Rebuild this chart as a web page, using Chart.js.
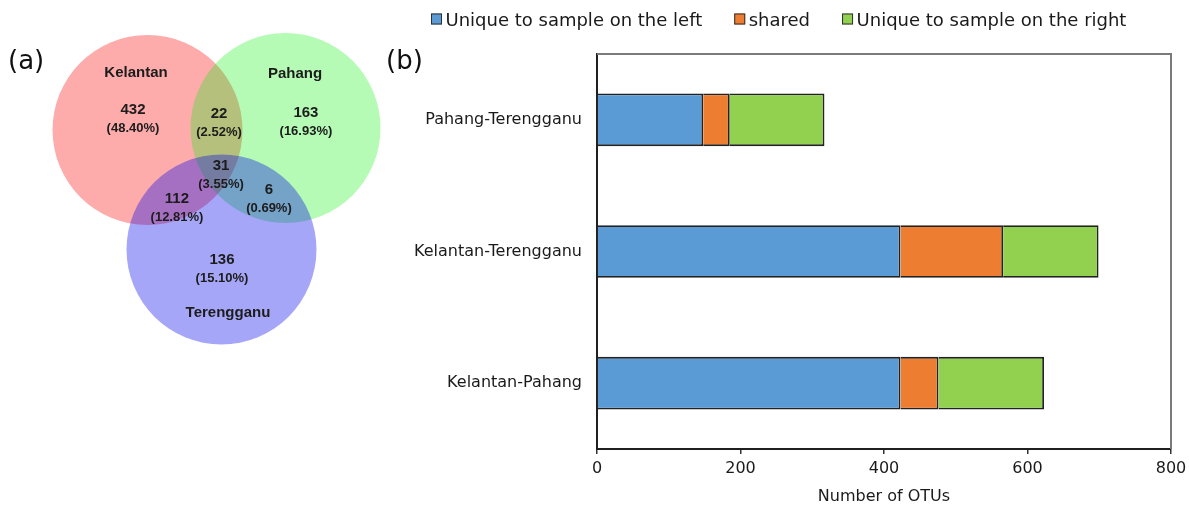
<!DOCTYPE html>
<html>
<head>
<meta charset="utf-8">
<title>OTU overlap between sampling sites</title>
<script src="https://cdn.jsdelivr.net/npm/chart.js@4.4.1/dist/chart.umd.min.js"></script>
<style>
  html, body { margin: 0; padding: 0; background: #ffffff; }
  #wrap { position: relative; width: 1189px; height: 508px; overflow: hidden; background: #ffffff; }
  #vennBox { position: absolute; left: 0; top: 0; width: 390px; height: 508px; }
  #barBox { position: absolute; left: 380px; top: 0; width: 809px; height: 508px; }
  .panel { position: absolute; top: 47px; font-family: "DejaVu Sans", sans-serif; font-size: 26px; line-height: 26px; color: #111; }
</style>
</head>
<body>
<div id="wrap">
  <div id="barBox"><canvas id="barCanvas"></canvas></div>
  <div id="vennBox"><canvas id="vennCanvas"></canvas></div>
  <div class="panel" style="left:8px">(a)</div>
  <div class="panel" style="left:386px">(b)</div>
</div>
<script>
// ---- Venn diagram data ----
const setNames = ['Kelantan', 'Pahang', 'Terengganu'];
// regions: K only, P only, T only, K∩P, K∩T, P∩T, K∩P∩T
const regionCounts = [432, 163, 136, 22, 112, 6, 31];
const regionShares = ['48.40%', '16.93%', '15.10%', '2.52%', '12.81%', '0.69%', '3.55%'];

// ---- pairwise comparison data ----
const pairLabels = ['Pahang-Terengganu', 'Kelantan-Terengganu', 'Kelantan-Pahang'];
const uniqueLeft = [148, 423, 423];
const sharedOTUs = [37, 143, 53];
const uniqueRight = [132, 133, 147];
const seriesNames = ['Unique to sample on the left', 'shared', 'Unique to sample on the right'];
const xTicks = [0, 200, 400, 600, 800];

// ---- Venn layout (units of one circle radius) ----
const circleCentres = [[-0.721, 0.621], [0.732, 0.642], [0.058, -0.637]];
const circleRadius = 1;
const nameAnchors = [[-0.842, 1.221], [0.832, 1.211], [0.126, -1.305]];
const regionAnchors = [[-0.874, 0.742], [0.947, 0.705], [0.063, -0.837],
                       [0.032, 0.700], [-0.411, -0.200], [0.558, -0.105], [0.053, 0.147]];
const circleFills = ['rgba(250,0,0,0.33)', 'rgba(10,240,10,0.30)', 'rgba(0,0,235,0.35)'];

const vennFont = '"Liberation Sans", Arial, sans-serif';
const barFont = '"DejaVu Sans", sans-serif';

function pxPerUnit(chart) {
  const s = chart.scales && chart.scales.x;
  if (!s || !s.width) return 0;
  return Math.abs(s.getPixelForValue(1) - s.getPixelForValue(0));
}

const vennText = {
  id: 'vennText',
  afterDatasetsDraw(chart) {
    const { ctx, scales: { x, y } } = chart;
    ctx.save();
    ctx.fillStyle = '#1c1c1c';
    ctx.textAlign = 'center';
    ctx.textBaseline = 'middle';
    ctx.font = 'bold 15px ' + vennFont;
    setNames.forEach((name, i) => {
      ctx.fillText(name, x.getPixelForValue(nameAnchors[i][0]), y.getPixelForValue(nameAnchors[i][1]));
    });
    regionCounts.forEach((count, i) => {
      const px = x.getPixelForValue(regionAnchors[i][0]);
      const py = y.getPixelForValue(regionAnchors[i][1]);
      ctx.font = 'bold 15px ' + vennFont;
      ctx.fillText(String(count), px, py - 9);
      ctx.font = 'bold 13px ' + vennFont;
      ctx.fillText('(' + regionShares[i] + ')', px, py + 9.5);
    });
    ctx.restore();
  }
};

// circles are scatter points whose radius follows the axis scale
const vennChart = new Chart(document.getElementById('vennCanvas'), {
  type: 'scatter',
  data: {
    datasets: [{
      label: 'sets',
      data: circleCentres.map(c => ({ x: c[0], y: c[1] })),
      showLine: false,
      pointStyle: 'circle',
      pointBackgroundColor: circleFills,
      pointBorderWidth: 0,
      pointBorderColor: 'rgba(0,0,0,0)',
      pointRadius: ctx => pxPerUnit(ctx.chart) * circleRadius,
      pointHoverRadius: ctx => pxPerUnit(ctx.chart) * circleRadius,
      clip: false
    }]
  },
  options: {
    responsive: true,
    maintainAspectRatio: false,
    devicePixelRatio: 1,
    animation: false,
    events: [],
    layout: { padding: 0, autoPadding: false },
    plugins: { legend: { display: false }, tooltip: { enabled: false } },
    scales: {
      x: { type: 'linear', display: false, min: -2.274, max: 1.832 },
      y: { type: 'linear', display: false, min: -3.358, max: 1.989 }
    }
  },
  plugins: [vennText]
});
vennChart.update();

// top and right edges of the plot frame
const frame = {
  id: 'frame',
  beforeDatasetsDraw(chart) {
    const { ctx, chartArea: { left, top, right, bottom } } = chart;
    ctx.save();
    ctx.strokeStyle = '#7a7a7a';
    ctx.lineWidth = 2;
    ctx.beginPath();
    ctx.moveTo(left, top);
    ctx.lineTo(right, top);
    ctx.lineTo(right, bottom);
    ctx.stroke();
    ctx.restore();
  }
};

// series key across the top
const seriesKey = {
  id: 'seriesKey',
  afterDraw(chart) {
    const ctx = chart.ctx;
    ctx.save();
    ctx.font = '18px ' + barFont;
    ctx.textBaseline = 'alphabetic';
    let x = 51;
    chart.data.datasets.forEach(ds => {
      ctx.fillStyle = ds.backgroundColor;
      ctx.fillRect(x, 13.5, 11, 11);
      ctx.strokeStyle = '#303030';
      ctx.lineWidth = 1;
      ctx.strokeRect(x + 0.5, 14, 10, 10);
      ctx.fillStyle = '#1a1a1a';
      ctx.fillText(ds.label, x + 14.5, 26);
      x += 14.5 + ctx.measureText(ds.label).width + 32;
    });
    ctx.restore();
  }
};

const seriesColours = ['#5b9bd5', '#ed7d31', '#92d050'];
const seriesValues = [uniqueLeft, sharedOTUs, uniqueRight];

new Chart(document.getElementById('barCanvas'), {
  type: 'bar',
  data: {
    labels: pairLabels,
    datasets: seriesNames.map((name, i) => ({
      label: name,
      data: seriesValues[i],
      backgroundColor: seriesColours[i],
      borderColor: '#222222',
      borderWidth: 1.8,
      categoryPercentage: 1,
      barPercentage: 0.4
    }))
  },
  options: {
    indexAxis: 'y',
    responsive: true,
    maintainAspectRatio: false,
    devicePixelRatio: 1,
    animation: false,
    events: [],
    layout: { padding: { top: 54, right: 18, bottom: 0, left: 0 } },
    plugins: { legend: { display: false }, tooltip: { enabled: false } },
    scales: {
      x: {
        stacked: true,
        min: 0,
        max: 800,
        afterBuildTicks: s => { s.ticks = xTicks.map(v => ({ value: v })); },
        afterFit: s => { s.height = 59; s.paddingLeft = 0; s.paddingRight = 0; },
        grid: { drawOnChartArea: false, drawTicks: true, tickLength: 5, color: '#333333', lineWidth: 1.5 },
        border: { display: true, color: '#1f1f1f', width: 2 },
        ticks: { font: { family: barFont, size: 16 }, color: '#1a1a1a', padding: 5 },
        title: {
          display: true,
          text: 'Number of OTUs',
          font: { family: barFont, size: 16 },
          color: '#1a1a1a',
          padding: { top: 0, bottom: 2 }
        }
      },
      y: {
        stacked: true,
        afterFit: s => { s.width = 217; s.paddingTop = 0; s.paddingBottom = 0; },
        grid: { display: true, drawOnChartArea: false, drawTicks: false },
        border: { display: true, color: '#1f1f1f', width: 2 },
        ticks: { font: { family: barFont, size: 16 }, color: '#1a1a1a', padding: 15 }
      }
    }
  },
  plugins: [frame, seriesKey]
});
</script>
</body>
</html>
